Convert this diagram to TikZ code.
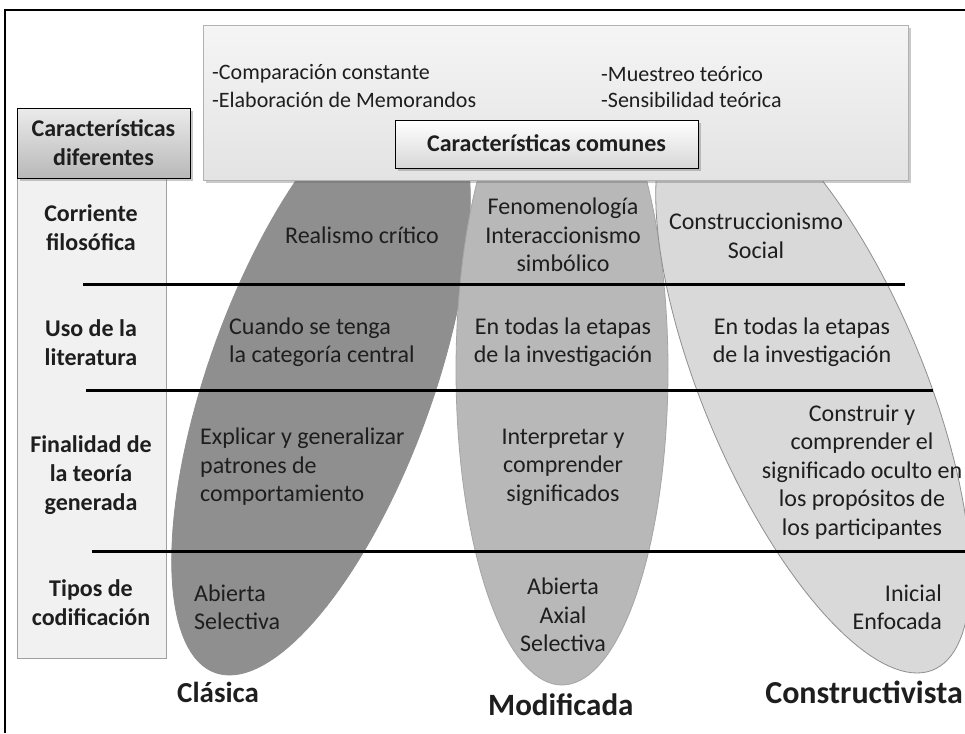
\documentclass[tikz,border=0pt]{standalone}
\usepackage{fontspec}
\setmainfont{Carlito}
\usetikzlibrary{shadows}
\definecolor{txt}{HTML}{1E1E1E}
\definecolor{cla}{HTML}{8F8F8F}
\definecolor{mod}{HTML}{B8B8B8}
\definecolor{modline}{HTML}{A5A5A5}
\definecolor{con}{HTML}{D9D9D9}
\definecolor{conline}{HTML}{8F8F8F}
\definecolor{stripfill}{HTML}{F1F1F1}
\definecolor{stripline}{HTML}{A0A0A0}
\begin{document}
\begin{tikzpicture}[x=1pt,y=-1pt,
  body/.style={font=\fontsize{24}{28.5}\selectfont, text=txt, inner sep=0pt, align=center},
  bodyl/.style={body, align=left, anchor=west},
  lbl/.style={font=\fontsize{24}{29}\selectfont\bfseries, text=txt, inner sep=0pt, align=center},
  bigc/.style={font=\fontsize{29}{34}\selectfont\bfseries, text=txt, inner sep=0pt},
  bigm/.style={font=\fontsize{31}{36}\selectfont\bfseries, text=txt, inner sep=0pt},
  bigk/.style={font=\fontsize{32}{37}\selectfont\bfseries, text=txt, inner sep=0pt},
  toptext/.style={font=\fontsize{22}{26}\selectfont, text=txt, inner sep=0pt, anchor=west},
  sepline/.style={line width=3pt, black},
  shadowed/.style={drop shadow={shadow xshift=2.5pt, shadow yshift=-2.5pt, opacity=0.35, fill=black!60}},
]
\useasboundingbox (0,0) rectangle (965,733);
\fill[white] (0,0) rectangle (965,733);

% ellipses
\filldraw[fill=cla, draw=cla, line width=0.8pt] plot[variable=\t, domain=0:360, samples=145]
  ({321+118*cos(\t)-91.5*sin(\t)}, {380+295*sin(\t)}) -- cycle;
\filldraw[fill=mod, draw=modline, line width=0.8pt] plot[variable=\t, domain=0:360, samples=145]
  ({562+106*cos(\t)}, {370+315*sin(\t)}) -- cycle;
\filldraw[fill=con, draw=conline, line width=0.8pt] plot[variable=\t, domain=0:360, samples=145]
  ({813+118*cos(\t)+104*sin(\t)}, {385+288*sin(\t)}) -- cycle;

% top box
\node (topbox) [anchor=north west, rectangle, draw=black!30, line width=1pt,
  top color=black!4, bottom color=black!11, minimum width=705pt, minimum height=155pt,
  shadowed] at (203,25) {};
\node (comunes) [anchor=north west, rectangle, draw=black, line width=1.3pt,
  top color=white, bottom color=black!16, minimum width=303pt, minimum height=48pt,
  shadowed] at (395,120) {};
\node[lbl] (comunestxt) at (546.5,143) {Características comunes};

\node[toptext] (t1) at (212,74) {-Comparación constante};
\node[toptext] (t2) at (212,100) {-Elaboración de Memorandos};
\node[toptext] (t3) at (601,74) {-Muestreo teórico};
\node[toptext] (t4) at (601,100) {-Sensibilidad teórica};

% left column
\node (strip) [anchor=north west, rectangle, draw=stripline, fill=stripfill, line width=1.2pt,
  minimum width=149pt, minimum height=480pt] at (17,178) {};
\node (difbox) [anchor=north west, rectangle, draw=black, line width=1.4pt,
  top color=black!8, bottom color=black!28, minimum width=173pt, minimum height=70pt,
  shadowed] at (17,108) {};
\node[lbl] (diftxt) at (103.5,143) {Características\\diferentes};

\node[lbl] (r1) at (91,228) {Corriente\\filosófica};
\node[lbl] (r2) at (91,343) {Uso de la\\literatura};
\node[lbl] (r3) at (91,475) {Finalidad de\\la teoría\\generada};
\node[lbl] (r4) at (91,603) {Tipos de\\codificación};

% separator lines
\coordinate (l1a) at (83,284);  \coordinate (l1b) at (905,284);
\coordinate (l2a) at (86,390);  \coordinate (l2b) at (933,390);
\coordinate (l3a) at (92,551);  \coordinate (l3b) at (965,551);
\draw[sepline] (l1a) -- (l1b);
\draw[sepline] (l2a) -- (l2b);
\draw[sepline] (l3a) -- (l3b);

% Clasica column
\node[body] (c1) at (362,235) {Realismo crítico};
\node[bodyl] (c2) at (229,342) {Cuando se tenga\\ la categoría central};
\node[bodyl] (c3) at (200,467) {Explicar y generalizar\\patrones de\\comportamiento};
\node[bodyl] (c4) at (194,607) {Abierta\\Selectiva};

% Modificada column
\node[body] (m1) at (563,235) {Fenomenología\\Interaccionismo\\simbólico};
\node[body] (m2) at (563,342) {En todas la etapas\\de la investigación};
\node[body] (m3) at (563,467) {Interpretar y\\comprender\\significados};
\node[body] (m4) at (563,615) {Abierta\\Axial\\Selectiva};

% Constructivista column
\node[body] (k1) at (756,236) {Construccionismo\\Social};
\node[body] (k2) at (802,342) {En todas la etapas\\de la investigación};
\node[body] (k3) at (862,472) {Construir y\\comprender el\\significado oculto en\\los propósitos de\\los participantes};
\node[body, align=right, anchor=east] (k4) at (942,607) {Inicial\\Enfocada};

% bottom labels
\node[bigc, anchor=west] (bc) at (177,692) {Clásica};
\node[bigm, anchor=west] (bm) at (488,705) {Modificada};
\node[bigk, anchor=east] (bk) at (963,692) {Constructivista};

% frame
\coordinate (f1) at (5,733); \coordinate (f2) at (5,10); \coordinate (f3) at (965,10);
\draw[line width=1.5pt, black] (f1) -- (f2) -- (f3);
\end{tikzpicture}
\end{document}
